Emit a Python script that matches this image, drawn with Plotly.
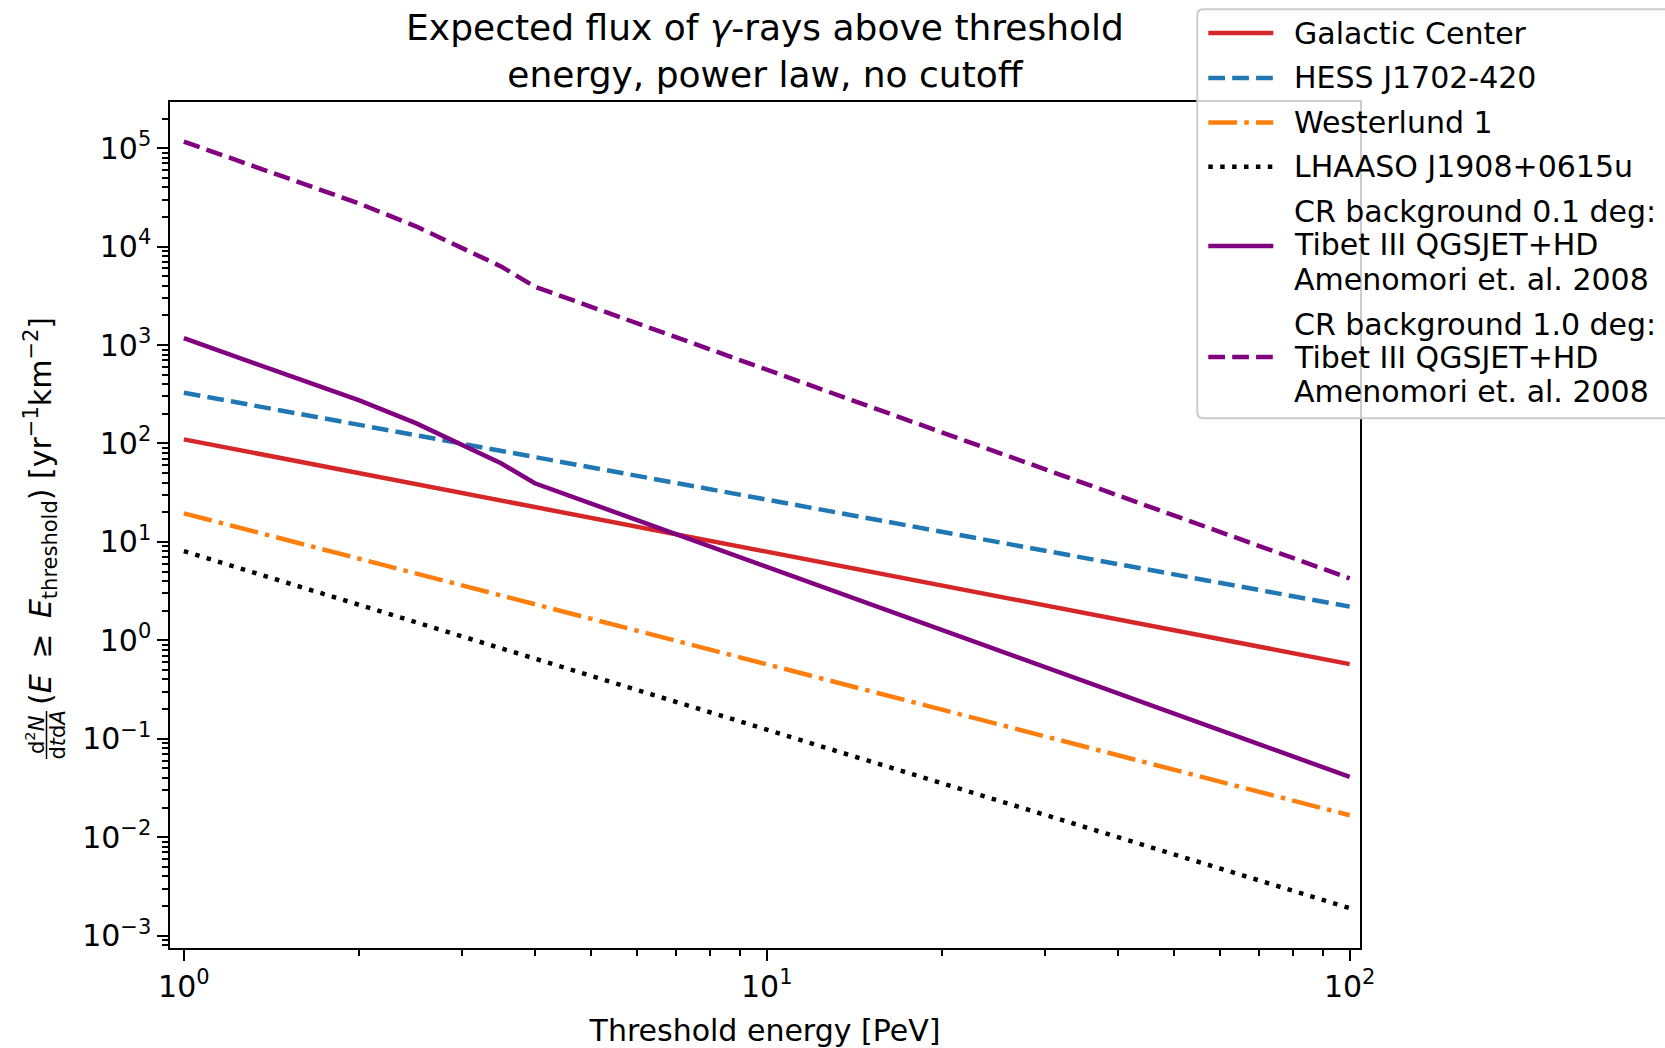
import plotly.graph_objects as go

# Threshold energies [PeV] for the power-law sources
energy_pev = [1, 100]
galactic_center = [110, 0.573]
hess_j1702 = [328, 2.2]
westerlund_1 = [19.5, 0.0167]
lhaaso_j1908 = [8.05, 0.0019]

# Cosmic-ray background (Tibet III QGSJET+HD, Amenomori et al. 2008)
cr_energy_pev = [1, 1.5, 2, 2.5, 3, 3.5, 4, 100]
cr_bg_01deg = [1172, 495, 274, 161, 98, 63, 39.4, 0.041]
cr_bg_10deg = [116700, 49550, 27350, 16070, 9817, 6295, 3917, 4.26]

series_names = [
    "Galactic Center",
    "HESS J1702-420",
    "Westerlund 1",
    "LHAASO J1908+0615u",
    "CR background 0.1 deg:<br>Tibet III QGSJET+HD<br>Amenomori et. al. 2008",
    "CR background 1.0 deg:<br>Tibet III QGSJET+HD<br>Amenomori et. al. 2008",
]

y_tick_vals = [1e-3, 1e-2, 1e-1, 1e0, 1e1, 1e2, 1e3, 1e4, 1e5]
y_tick_text = ["10<sup>−3</sup>", "10<sup>−2</sup>", "10<sup>−1</sup>", "10<sup>0</sup>",
               "10<sup>1</sup>", "10<sup>2</sup>", "10<sup>3</sup>", "10<sup>4</sup>",
               "10<sup>5</sup>"]
x_tick_vals = [1, 10, 100]
x_tick_text = ["10<sup>0</sup>", "10<sup>1</sup>", "10<sup>2</sup>"]

FONT = "DejaVu Sans"
LW = 4.5
DASHED = "16.7px,7.2px"
DASHDOT = "28.8px,7.2px,4.5px,7.2px"
DOTTED = "4.5px,7.4px"

styles = [
    dict(color="#d62728", width=LW, dash="solid"),
    dict(color="#1f77b4", width=LW, dash=DASHED),
    dict(color="#ff7f0e", width=LW, dash=DASHDOT),
    dict(color="black", width=LW, dash=DOTTED),
    dict(color="purple", width=LW, dash="solid"),
    dict(color="purple", width=LW, dash=DASHED),
]
series = [
    (energy_pev, galactic_center),
    (energy_pev, hess_j1702),
    (energy_pev, westerlund_1),
    (energy_pev, lhaaso_j1908),
    (cr_energy_pev, cr_bg_01deg),
    (cr_energy_pev, cr_bg_10deg),
]

fig = go.Figure()
for (xs, ys), name, style in zip(series, series_names, styles):
    fig.add_trace(go.Scatter(x=xs, y=ys, mode="lines", name=name, line=style, showlegend=False))

L, R, T, B = 170, 1360, 102, 948
W, H = 1665, 1048
PW, PH = R - L, B - T


def px(xp):
    return (xp - L) / PW


def py(yp):
    return (B - yp) / PH


minor_y = [k * 10.0 ** n for n in range(-4, 6) for k in range(2, 10)]
minor_x = [k * 10.0 ** n for n in range(-1, 3) for k in range(2, 10)]

axis_common = dict(
    type="log", showgrid=False, zeroline=False,
    showline=True, mirror=True, linecolor="black", linewidth=2.4,
    ticks="outside", ticklen=10.5, tickwidth=2.4, tickcolor="black",
    tickfont=dict(family=FONT, size=30, color="black"),
    tickmode="array",
)

fig.update_layout(
    width=W, height=H,
    margin=dict(l=L, r=W - R, t=T, b=H - B, autoexpand=False),
    paper_bgcolor="white", plot_bgcolor="white",
    font=dict(family=FONT, size=30, color="black"),
    title=dict(text="Expected flux of <i>γ</i>-rays above threshold<br>energy, power law, no cutoff",
               x=0.5, xref="paper", xanchor="center",
               y=1 - 40 / H, yref="container", yanchor="middle",
               font=dict(family=FONT, size=36, color="black")),
    xaxis=dict(axis_common, range=[-0.0238, 2.0177], tickvals=x_tick_vals, ticktext=x_tick_text,
               minor=dict(tickmode="array", tickvals=minor_x, ticks="outside", ticklen=6,
                          tickwidth=1.8, tickcolor="black", showgrid=False),
               title=dict(text="Threshold energy [PeV]", standoff=17,
                          font=dict(family=FONT, size=30, color="black"))),
    yaxis=dict(axis_common, range=[-3.126, 5.469], tickvals=y_tick_vals, ticktext=y_tick_text,
               minor=dict(tickmode="array", tickvals=minor_y, ticks="outside", ticklen=6,
                          tickwidth=1.8, tickcolor="black", showgrid=False)),
    showlegend=False,
)

# y-axis label: fraction d2N / dtdA followed by the condition and units
label_font = dict(family=FONT, size=30, color="black")
frac_font = dict(family=FONT, size=21, color="black")
fig.add_annotation(text="(<i>E</i>\u00a0\u2009≥\u2009\u00a0<i>E</i><sub>threshold</sub>) [yr<sup>−1</sup>km<sup>−2</sup>]",
                   xref="paper", yref="paper", x=px(40), y=py(707), xanchor="center", yanchor="bottom",
                   textangle=-90, showarrow=False, font=label_font)
fig.add_annotation(text="d<sup>2</sup><i>N</i>", xref="paper", yref="paper", x=px(35), y=py(735),
                   xanchor="center", yanchor="middle", textangle=-90, showarrow=False, font=frac_font)
fig.add_annotation(text="d<i>t</i>d<i>A</i>", xref="paper", yref="paper", x=px(57.5), y=py(735),
                   xanchor="center", yanchor="middle", textangle=-90, showarrow=False, font=frac_font)
fig.add_shape(type="line", xref="paper", yref="paper", x0=px(46.5), x1=px(46.5), y0=py(711), y1=py(759),
              line=dict(color="black", width=1.5))

# Legend box with rounded left corners (extends past the right edge of the page)
bx0, by0, bx1, by1, rad = 1197.3, 9.3, 1690, 418.3, 6
box_path = (
    f"M {px(bx0 + rad)},{py(by0)} L {px(bx1)},{py(by0)} L {px(bx1)},{py(by1)} "
    f"L {px(bx0 + rad)},{py(by1)} Q {px(bx0)},{py(by1)} {px(bx0)},{py(by1 - rad)} "
    f"L {px(bx0)},{py(by0 + rad)} Q {px(bx0)},{py(by0)} {px(bx0 + rad)},{py(by0)} Z"
)
fig.add_shape(type="path", xref="paper", yref="paper", path=box_path,
              fillcolor="rgba(255,255,255,0.8)", line=dict(color="#cccccc", width=2))

# Legend entries: line sample and label text
sample_x0, sample_x1, text_x = 1208.3, 1273.3, 1292
sample_y = [33, 78, 122.5, 166.7, 246, 357]
text_lines_y = [[33], [78], [122.5], [166.7], [211.7, 245, 279], [324, 357, 391]]
for name, style, sy, lines_y in zip(series_names, styles, sample_y, text_lines_y):
    fig.add_shape(type="line", xref="paper", yref="paper",
                  x0=px(sample_x0), x1=px(sample_x1), y0=py(sy), y1=py(sy),
                  line=style)
    for line_text, ly in zip(name.split("<br>"), lines_y):
        fig.add_annotation(text=line_text, xref="paper", yref="paper", x=px(text_x), y=py(ly),
                           xanchor="left", yanchor="middle", showarrow=False, font=label_font)

fig.write_html("out.html")
